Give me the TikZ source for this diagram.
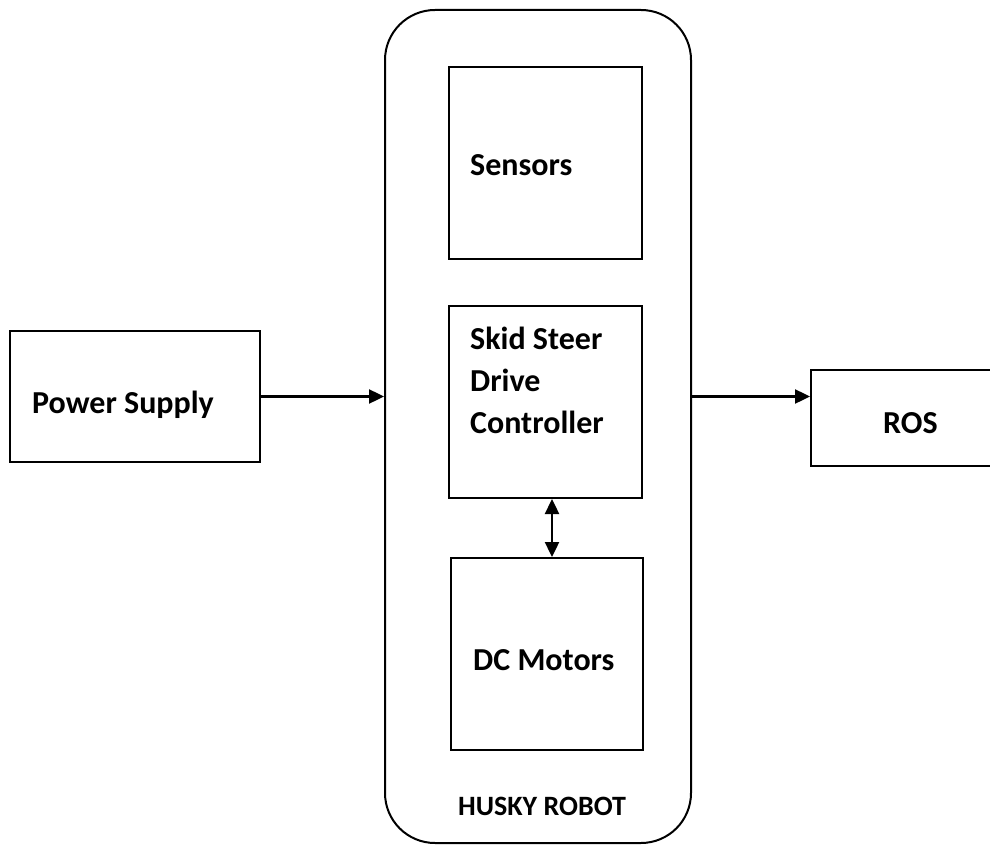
\documentclass[tikz,border=0pt]{standalone}
\usepackage{fontspec}
\setmainfont{Carlito}
\usetikzlibrary{arrows.meta}

\begin{document}
\begin{tikzpicture}[
		x=1pt, y=-1pt,                                   % đơn vị pt, trục y hướng xuống
		>={Triangle[length=15pt,width=14pt]},
		khoi/.style={draw, line width=2pt, minimum width=193pt, minimum height=192pt, inner sep=0pt},
		chu/.style={font=\fontsize{32}{42}\selectfont\bfseries, inner sep=0pt, anchor=base west, align=left},
		mui/.style={->, line width=2.4pt}
		]
		\useasboundingbox (0,0) rectangle (990,845);
		% khung robot bao ngoài
		\node[draw, line width=2pt, rounded corners=50pt, minimum width=306pt, minimum height=833pt] (husky) at (538,426.5) {};
		\node[font=\fontsize{28}{34}\selectfont\bfseries, inner sep=0pt, anchor=base west] (huskytxt) at (458,815) {HUSKY ROBOT};
		% các khối bên trong
		\node[khoi] (sensors) at (545.5,163) {};
		\node[khoi] (skid) at (545.5,402) {};
		\node[khoi, minimum width=192pt] (dc) at (547,654) {};
		\node[chu] (sensorstxt) at (470,176) {Sensors};
		\node[chu] (skidtxt) at (470,433) {Skid Steer\\Drive\\Controller}; % base = dòng cuối
		\node[chu] (dctxt) at (473,670) {DC Motors};
		% khối bên ngoài
		\node[khoi, minimum width=250pt, minimum height=131pt] (power) at (135,396.5) {};
		\node[chu] (powertxt) at (32,413) {Power Supply};
		\node[khoi, minimum width=190pt, minimum height=96pt] (ros) at (906,418) {};
		\node[chu] (rostxt) at (883,433) {ROS};
		% mũi tên
		\draw[mui] (power.east) -- (husky.west |- power.east);
		\draw[mui] (husky.east |- power.east) -- (ros.west |- power.east);
		\draw[mui, <->] ([xshift=6.5pt]skid.south) -- ([xshift=6.5pt]skid.south |- dc.north);
\end{tikzpicture}
\end{document}
